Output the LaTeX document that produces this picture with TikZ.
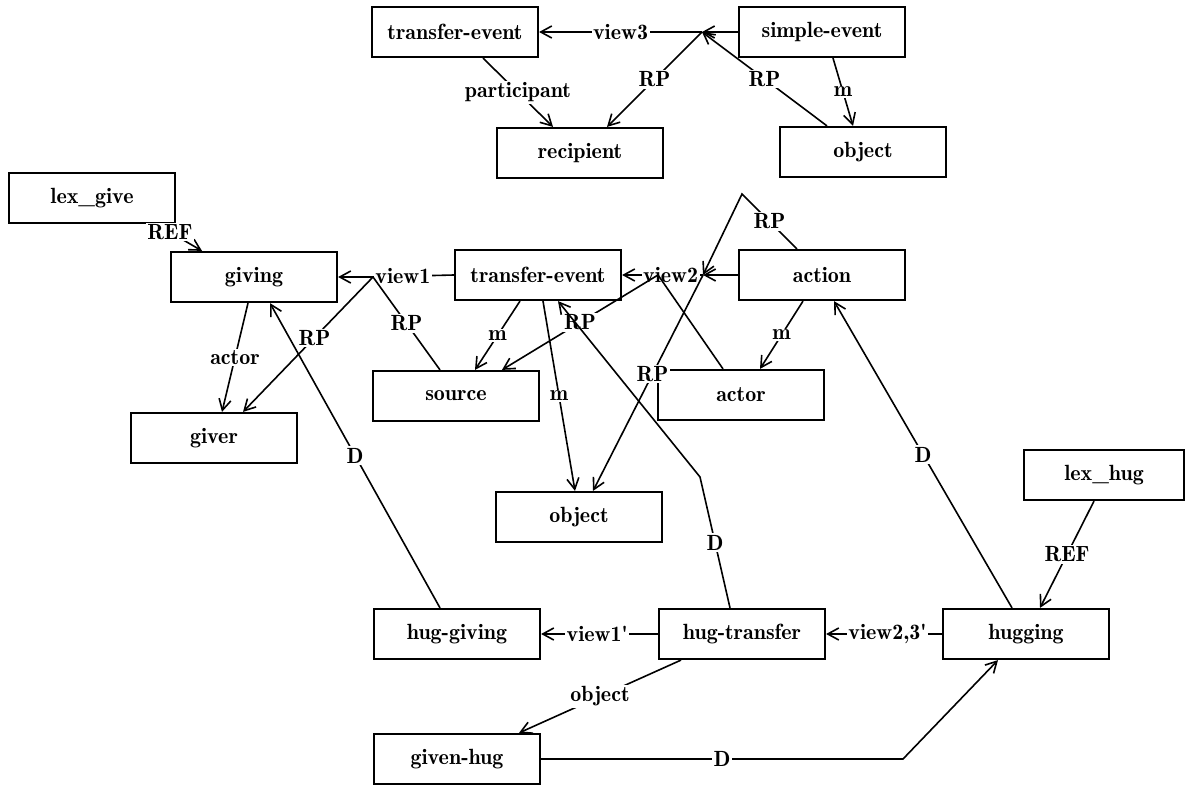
\documentclass[tikz,border=0pt]{standalone}
\usepackage{fontspec}
\newfontfamily\boxfont{lmromandemi10-regular.otf}
\usetikzlibrary{arrows.meta}

\begin{document}
\begin{tikzpicture}[x=1pt,y=-1pt,
  font=\boxfont\fontsize{22}{24}\selectfont,
  box/.style={draw, line width=2.2pt, minimum width=166pt, minimum height=50pt, inner sep=0pt},
  link/.style={line width=1.6pt},
  arr/.style={link, -{Straight Barb[length=11pt,width=12pt,line width=1.6pt]}},
  lbl/.style={fill=white, inner sep=1.5pt},
]
\fill[white] (0,0) rectangle (1185,786);
\useasboundingbox (0,0) rectangle (1185,786);

% frames
\node[box] (te1)  at (455,32)  {transfer-event};
\node[box] (se)   at (822,32)  {simple-event};
\node[box] (rec)  at (580,153) {recipient};
\node[box] (obj1) at (863,152) {object};
\node[box] (lexg) at (92,198)  {lex\_give};
\node[box] (giv)  at (254,277) {giving};
\node[box] (te2)  at (538,275) {transfer-event};
\node[box] (act)  at (822,275) {action};
\node[box] (src)  at (456,396) {source};
\node[box] (actr) at (741,395) {actor};
\node[box] (gvr)  at (214,438) {giver};
\node[box] (obj2) at (579,517) {object};
\node[box, minimum width=160pt] (lexh) at (1104,475) {lex\_hug};
\node[box] (hgv)  at (457,634) {hug-giving};
\node[box] (htr)  at (742,634) {hug-transfer};
\node[box] (hug)  at (1026,634) {hugging};
\node[box] (ghug) at (457,759) {given-hug};

% junction points on the view links
\coordinate (j3)    at (702,32);
\coordinate (j1)    at (373,277);
\coordinate (j2a)   at (658,275);
\coordinate (j2b)   at (703,275);
\coordinate (apex)  at (742,194);
\coordinate (bendD) at (700,477);
\coordinate (bendG) at (903,759);

% view links
\draw[arr] (se.west) -- (j3);
\draw[arr] (j3) -- node[lbl]{view3} (te1.east);
\draw[link] (te2.west) -- node[lbl, pos=0.63]{view1} (j1);
\draw[arr] (j1) -- (giv.east);
\draw[arr] (act.west) -- (j2b);
\draw[arr] (j2b) -- node[lbl, pos=0.4]{view2} (te2.east);
\draw[arr] (htr.west) -- node[lbl, pos=0.52]{view1'} (hgv.east);
\draw[arr] (hug.west) -- node[lbl, pos=0.47]{view2,3'} (htr.east);

% top group
\draw[arr] ([xshift=-36pt]obj1.north) -- node[lbl]{RP} (j3);
\draw[arr] (j3) -- node[lbl]{RP} ([xshift=27pt]rec.north);
\draw[arr] ([xshift=28pt]te1.south) -- node[lbl]{participant} ([xshift=-27pt]rec.north);
\draw[arr] ([xshift=11pt]se.south) -- node[lbl]{m} ([xshift=-10pt]obj1.north);

% middle group
\draw[arr] ([xshift=-20pt]lexg.south east) -- node[lbl, pos=0.3]{REF} ([xshift=-52pt]giv.north);
\draw[arr] (j1) -- node[lbl, pos=0.45]{RP} ([xshift=29pt]gvr.north);
\draw[link] ([xshift=-16pt]src.north) -- node[lbl]{RP} (j1);
\draw[arr] ([xshift=-6pt]giv.south) -- node[lbl]{actor} ([xshift=8pt]gvr.north);
\draw[arr] (j2a) -- node[lbl]{RP} ([xshift=46pt]src.north);
\draw[link] ([xshift=-18pt]actr.north) -- (j2a);
\draw[arr] ([xshift=-18pt]te2.south) -- node[lbl]{m} ([xshift=19pt]src.north);
\draw[arr] ([xshift=5pt]te2.south) -- node[lbl]{m} ([xshift=-4pt]obj2.north);
\draw[arr] ([xshift=-25pt]act.north) -- node[lbl]{RP} (apex) -- (j2b);
\draw[arr] (j2b) -- node[lbl, pos=0.46]{RP} ([xshift=14pt]obj2.north);
\draw[arr] ([xshift=-19pt]act.south) -- node[lbl]{m} ([xshift=19pt]actr.north);

% hug group
\draw[arr] ([xshift=-17pt]hgv.north) -- node[lbl]{D} ([xshift=16pt]giv.south);
\draw[arr] ([xshift=-12pt]htr.north) -- node[lbl]{D} (bendD) -- ([xshift=20pt]te2.south);
\draw[arr] ([xshift=-14pt]hug.north) -- node[lbl]{D} ([xshift=12pt]act.south);
\draw[arr] ([xshift=-10pt]lexh.south) -- node[lbl]{REF} ([xshift=14pt]hug.north);
\draw[arr] ([xshift=-61pt]htr.south) -- node[lbl]{object} ([xshift=62pt]ghug.north);
\draw[arr] (ghug.east) -- node[lbl]{D} (bendG) -- ([xshift=-28pt]hug.south);
\end{tikzpicture}
\end{document}
